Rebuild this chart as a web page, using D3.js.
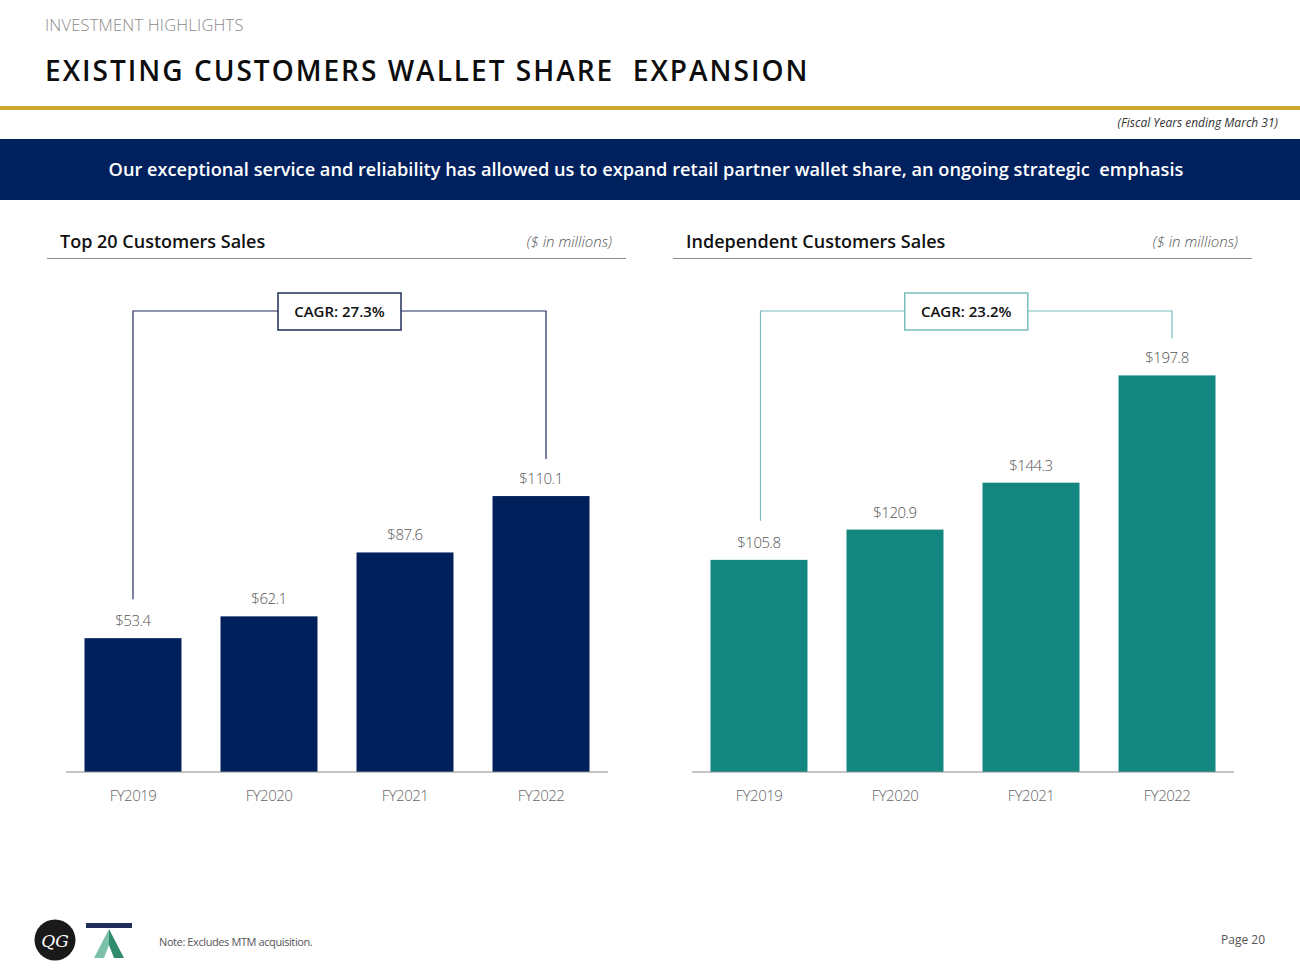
<!DOCTYPE html>
<html><head><meta charset="utf-8">
<script src="https://cdn.jsdelivr.net/npm/d3@7"></script>
<style>
html,body{margin:0;padding:0;background:#fff;}
svg{display:block;font-family:"Open Sans","Noto Sans",sans-serif;}
</style></head>
<body>
<svg id="c" width="1300" height="978"></svg>
<script>
const categories = ["FY2019","FY2020","FY2021","FY2022"];
const top20Sales = [53.4, 62.1, 87.6, 110.1];
const independentSales = [105.8, 120.9, 144.3, 197.8];
const cagrLabels = ["CAGR: 27.3%","CAGR: 23.2%"];
const panelTitles = ["Top 20 Customers Sales","Independent Customers Sales"];
const yMax = [160, 200];

const svg = d3.select("#c");
svg.append("rect").attr("width",1300).attr("height",978).attr("fill","#fff");

// header
svg.append("text").attr("x",45).attr("y",31).text("INVESTMENT HIGHLIGHTS")
  .attr("font-size",16.5).attr("fill","#8a8a8a").attr("font-weight",300).attr("letter-spacing",0.2);
svg.append("text").attr("x",45).attr("y",81).text("EXISTING CUSTOMERS WALLET SHARE  EXPANSION")
  .attr("font-size",28).attr("fill","#0d0d0d").attr("font-weight",600).attr("letter-spacing",2.0)
  .style("white-space","pre");
svg.append("rect").attr("x",0).attr("y",106).attr("width",1300).attr("height",4).attr("fill","#cda82c");
svg.append("text").attr("x",1278).attr("y",127).attr("text-anchor","end").text("(Fiscal Years ending March 31)")
  .attr("font-size",12).attr("font-style","italic").attr("fill","#333").attr("letter-spacing",0);

// banner
svg.append("rect").attr("x",0).attr("y",139).attr("width",1300).attr("height",61).attr("fill","#00215e");
svg.append("text").attr("x",646).attr("y",176).attr("text-anchor","middle")
  .text("Our exceptional service and reliability has allowed us to expand retail partner wallet share, an ongoing strategic  emphasis")
  .attr("font-size",18.2).attr("font-weight",600).attr("fill","#fff").style("white-space","pre");

const panels = [
  {values: top20Sales, color:"#00205b", bracket:"#1f2d5a", x0:66, x1:608, hx0:47, hx1:626, tx:60},
  {values: independentSales, color:"#138680", bracket:"#7bbcbc", x0:692, x1:1234, hx0:673, hx1:1252, tx:686}
];

panels.forEach((p,i)=>{
  const g = svg.append("g");
  // panel header
  g.append("text").attr("x",p.tx).attr("y",248).text(panelTitles[i])
    .attr("font-size",18).attr("font-weight",600).attr("fill","#111").attr("letter-spacing",0);
  g.append("text").attr("x",p.hx1-14).attr("y",247).attr("text-anchor","end").text("($ in millions)")
    .attr("font-size",15).attr("font-style","italic").attr("font-weight",300).attr("fill","#555");
  g.append("line").attr("x1",p.hx0).attr("x2",p.hx1).attr("y1",258.5).attr("y2",258.5)
    .attr("stroke","#8c8c8c").attr("stroke-width",1.2);

  const x = d3.scaleBand().domain(categories).range([p.x0,p.x1]).paddingInner(0.287).paddingOuter(0.136);
  const y = d3.scaleLinear().domain([0,yMax[i]]).range([772,371]);

  g.selectAll("rect.bar").data(p.values).join("rect").attr("class","bar")
    .attr("x",(d,j)=>x(categories[j])).attr("width",x.bandwidth())
    .attr("y",d=>y(d)).attr("height",d=>y(0)-y(d)).attr("fill",p.color);

  g.selectAll("text.val").data(p.values).join("text").attr("class","val")
    .attr("x",(d,j)=>x(categories[j])+x.bandwidth()/2).attr("y",d=>y(d)-12)
    .attr("text-anchor","middle").text(d=>"$"+d.toFixed(1))
    .attr("font-size",15).attr("font-weight",300).attr("fill","#555").attr("letter-spacing",-0.5);

  // axis
  const ax = g.append("g").attr("transform","translate(0,772)")
    .call(d3.axisBottom(x).tickSize(0).tickPadding(18));
  ax.select(".domain").attr("stroke","#8c8c8c").attr("stroke-width",1.2)
    .attr("d",`M${p.x0},0H${p.x1}`);
  ax.selectAll("text").attr("font-size",15).attr("font-weight",300).attr("fill","#666")
    .attr("font-family","'Open Sans','Noto Sans',sans-serif").attr("letter-spacing",-0.5);

  // CAGR bracket
  const first = p.values[0], last = p.values[p.values.length-1];
  const lx = x(categories[0])+x.bandwidth()/2+(i?1.5:0);
  const rx = x(categories[categories.length-1])+x.bandwidth()/2+5;
  const by = 311;
  const ly = y(first)-12-27, ry = y(last)-12-25;
  g.append("path").attr("d",`M${lx},${ly}V${by}H${rx}V${ry}`)
    .attr("fill","none").attr("stroke",p.bracket).attr("stroke-width",1.2);
  const cx = (lx+rx)/2, bw = 123, bh = 37;
  g.append("rect").attr("x",cx-bw/2).attr("y",by-18).attr("width",bw).attr("height",bh)
    .attr("fill","#fff").attr("stroke",p.bracket).attr("stroke-width",1.5);
  g.append("text").attr("x",cx).attr("y",by+5.5).attr("text-anchor","middle").text(cagrLabels[i])
    .attr("font-size",15).attr("font-weight",600).attr("fill","#111").attr("letter-spacing",0);
});

// footer logos
const f = svg.append("g");
f.append("circle").attr("cx",55).attr("cy",940).attr("r",20.5).attr("fill","#1a1a1a");
f.append("text").attr("x",55).attr("y",947).attr("text-anchor","middle").text("QG")
  .attr("font-family","'DejaVu Serif',serif").attr("font-style","italic").attr("font-size",17).attr("fill","#fff");
f.append("rect").attr("x",86).attr("y",923).attr("width",46).attr("height",5).attr("fill","#1f2d5a");
f.append("path").attr("d","M109,929 L94,958 L104,958 L109,945 Z").attr("fill","#7cc0a8");
f.append("path").attr("d","M109,929 L124,958 L114,958 L109,945 Z").attr("fill","#2f8a6e");
f.append("text").attr("x",159).attr("y",946).text("Note: Excludes MTM acquisition.")
  .attr("font-size",11).attr("fill","#555").attr("letter-spacing",-0.4);
f.append("text").attr("x",1265).attr("y",944).attr("text-anchor","end").text("Page 20")
  .attr("font-size",12).attr("fill","#555");
</script>
</body></html>
